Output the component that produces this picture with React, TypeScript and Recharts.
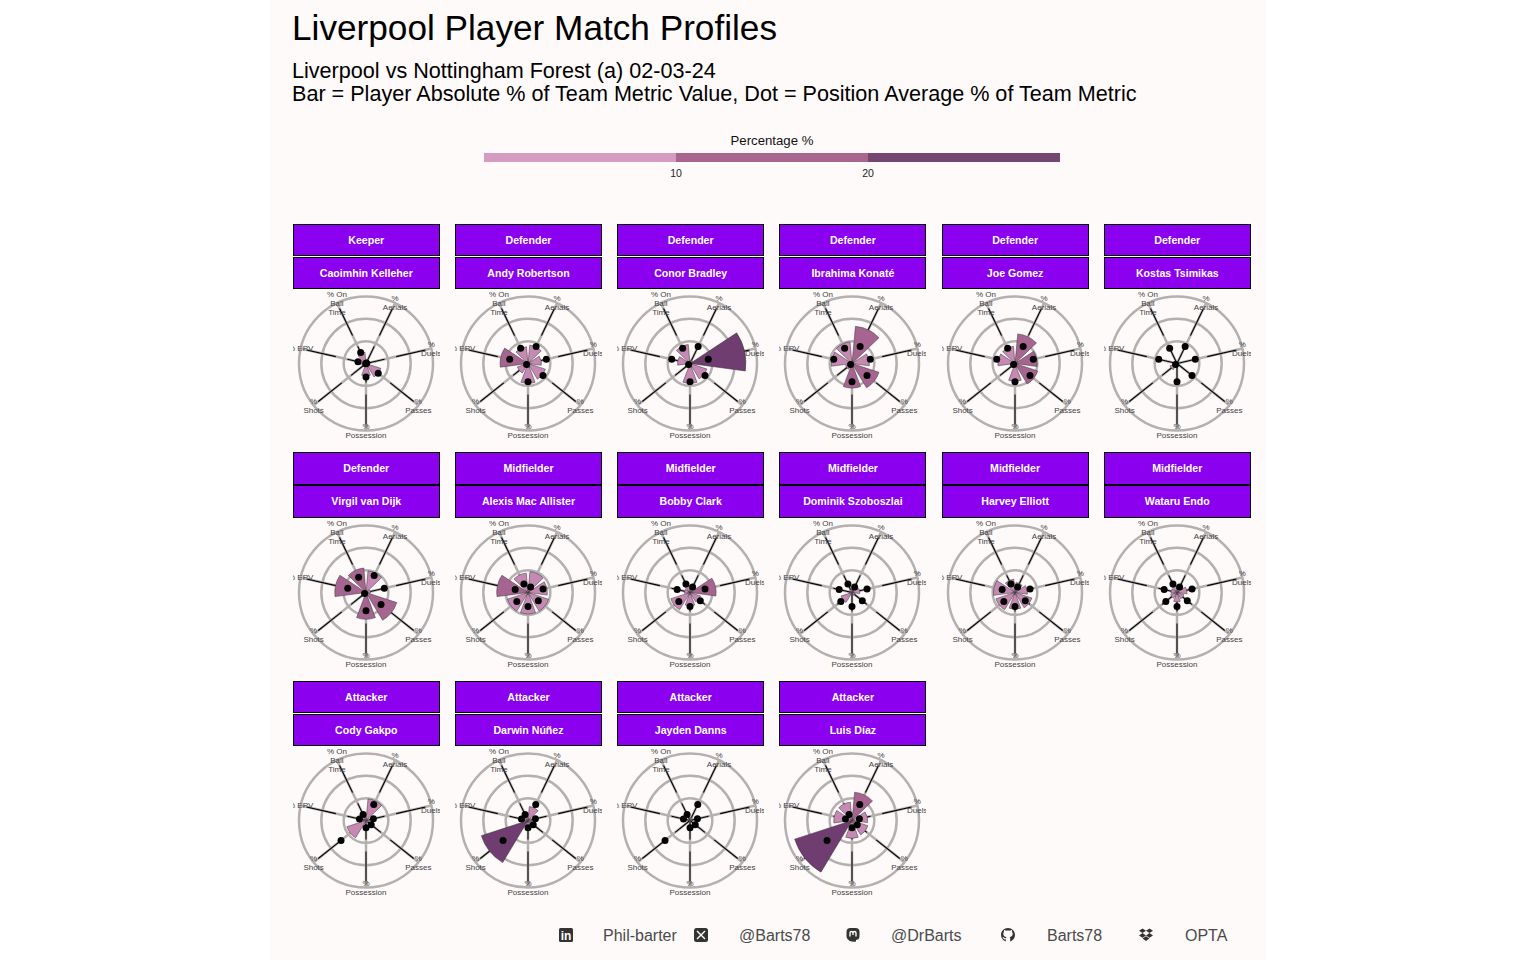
import React from 'react';
import {
  RadialBarChart,
  RadialBar,
  Radar,
  Sector,
  PolarGrid,
  PolarAngleAxis,
  PolarRadiusAxis,
} from 'recharts';

// order is clockwise from the top of each wheel
const metrics = ['Aerials', 'Duels', 'Passes', 'Possession', 'Shots', 'EPV', 'On Ball Time'];
const metricLabels = [
  ['%', 'Aerials'],
  ['%', 'Duels'],
  ['%', 'Passes'],
  ['%', 'Possession'],
  ['%', 'Shots'],
  ['% EPV'],
  ['% On', 'Ball', 'Time'],
];
const ringTicks = [10, 20, 30];

const legendBreaks = [10, 20];

// position averages (the dots)
const keeperAvg = [0.3, 0.3, 7, 6, 0.2, 3.7, 5.5];
const defenderAvg = [8.4, 8.4, 8.6, 8.2, 0.8, 8.4, 7.6];
const midfielderAvg = [2.7, 6.9, 5.9, 6.3, 6.4, 5.9, 4.2];
const attackerAvg = [8, 3.4, 3, 3.3, 14.3, 3, 3];

// player values (the bars)
const kelleher = [0.8, 1, 7, 5.6, 0.3, 3, 5];
const robertson = [8.2, 6, 8.2, 9, 5, 12.5, 7.5];
const bradley = [1.5, 25, 8, 9, 2, 5.6, 8.5];
const konate = [16.7, 7.8, 12.7, 11, 3, 9.3, 9.7];
const gomez = [13.3, 10, 10.7, 8, 2, 7.7, 7.7];
const tsimikas = [0.4, 0.5, 0.4, 0.5, 3.3, 0.4, 0.5];
const vanDijk = [9.7, 2, 14.5, 12, 2, 14, 11];
const macAllister = [9.4, 8.7, 9.7, 9.7, 9.7, 14, 8.7];
const clark = [2, 11.7, 5, 6, 9, 2.5, 3];
const szoboszlai = [1, 3.5, 1.5, 1, 5.2, 1, 1.5];
const elliott = [4.5, 5.6, 8, 7.5, 9, 9.7, 6];
const endo = [2.2, 4.5, 3.3, 4.2, 3, 2.7, 3];
const gakpo = [9.7, 1.5, 1, 1.5, 9, 1, 1.5];
const nunez = [6.3, 1.5, 2, 2.5, 22, 1.5, 1.5];
const danns = [1.5, 1, 0.5, 0.7, 0.4, 0.6, 0.5];
const diaz = [12.7, 7, 7.5, 8, 27, 8.2, 8.2];

const players = [
  { name: 'Caoimhin Kelleher', position: 'Keeper', bars: kelleher, dots: keeperAvg },
  { name: 'Andy Robertson', position: 'Defender', bars: robertson, dots: defenderAvg },
  { name: 'Conor Bradley', position: 'Defender', bars: bradley, dots: defenderAvg },
  { name: 'Ibrahima Konaté', position: 'Defender', bars: konate, dots: defenderAvg },
  { name: 'Joe Gomez', position: 'Defender', bars: gomez, dots: defenderAvg },
  { name: 'Kostas Tsimikas', position: 'Defender', bars: tsimikas, dots: defenderAvg },
  { name: 'Virgil van Dijk', position: 'Defender', bars: vanDijk, dots: defenderAvg },
  { name: 'Alexis Mac Allister', position: 'Midfielder', bars: macAllister, dots: midfielderAvg },
  { name: 'Bobby Clark', position: 'Midfielder', bars: clark, dots: midfielderAvg },
  { name: 'Dominik Szoboszlai', position: 'Midfielder', bars: szoboszlai, dots: midfielderAvg },
  { name: 'Harvey Elliott', position: 'Midfielder', bars: elliott, dots: midfielderAvg },
  { name: 'Wataru Endo', position: 'Midfielder', bars: endo, dots: midfielderAvg },
  { name: 'Cody Gakpo', position: 'Attacker', bars: gakpo, dots: attackerAvg },
  { name: 'Darwin Núñez', position: 'Attacker', bars: nunez, dots: attackerAvg },
  { name: 'Jayden Danns', position: 'Attacker', bars: danns, dots: attackerAvg },
  { name: 'Luis Díaz', position: 'Attacker', bars: diaz, dots: attackerAvg },
];

const FONT = '"Liberation Sans", Arial, sans-serif';
const BG = '#FFFAFA';
const LIGHT = '#C588B4';
const MID = '#A5648F';
const DARK = '#6E3B6E';
const HALF_BAND = 360 / metrics.length / 2;

const barColour = (v: number) => (v < 10 ? LIGHT : v < 20 ? MID : DARK);

const AngleTick = ({ x, y, index }: any) => {
  const lines = metricLabels[index];
  const top = y - ((lines.length - 1) * 9) / 2;
  return (
    <text textAnchor="middle" fontSize={8} fontFamily={FONT} fill="#404040">
      {lines.map((line, i) => (
        <tspan key={i} x={x} y={top + i * 9} dy="0.35em">
          {line}
        </tspan>
      ))}
    </text>
  );
};

// recharts puts the spokes on the band edge, so turn each bar back onto its spoke
const WedgeShape = (props: any) => (
  <Sector
    cx={props.cx}
    cy={props.cy}
    innerRadius={props.innerRadius}
    outerRadius={props.outerRadius}
    startAngle={props.startAngle - HALF_BAND}
    endAngle={props.endAngle - HALF_BAND}
    fill={barColour(props.value)}
    stroke="#333"
    strokeWidth={0.5}
  />
);

const Wheel = ({ bars, dots }: { bars: number[]; dots: number[] }) => {
  const data = metrics.map((metric, i) => ({ metric, value: bars[i], avg: dots[i] }));
  return (
    <RadialBarChart
      width={147}
      height={151}
      data={data}
      cx={73}
      cy={74.5}
      innerRadius={0}
      outerRadius={67}
      startAngle={90 - HALF_BAND}
      endAngle={-270 - HALF_BAND}
      layout="centric"
      barCategoryGap="10%"
      margin={{ top: 0, right: 0, bottom: 0, left: 0 }}
    >
      <PolarGrid gridType="circle" stroke="#B5B0B0" strokeWidth={2.5} />
      <PolarAngleAxis
        type="category"
        dataKey="metric"
        axisLine={false}
        tickLine={false}
        tickSize={0.01}
        tick={<AngleTick />}
      />
      <PolarRadiusAxis type="number" domain={[0, 30]} ticks={ringTicks} tick={false} axisLine={false} />
      <RadialBar dataKey="value" shape={<WedgeShape />} isAnimationActive={false} />
      <PolarGrid
        gridType="circle"
        polarRadius={[]}
        outerRadius={60}
        stroke="#000"
        strokeWidth={1.1}
        strokeDasharray="19 12 30"
      />
      <Radar
        dataKey="avg"
        stroke="none"
        fill="none"
        dot={{ r: 3.5, fill: '#000', stroke: 'none' }}
        isAnimationActive={false}
      />
    </RadialBarChart>
  );
};

const Strip = ({ top, label }: { top: number; label: string }) => (
  <div
    style={{
      position: 'absolute',
      top,
      left: 0,
      width: 145,
      height: 30.5,
      background: '#8B00EE',
      border: '1.3px solid #000',
      color: '#fff',
      fontSize: 10.6,
      fontWeight: 700,
      lineHeight: '31px',
      textAlign: 'center',
    }}
  >
    {label}
  </div>
);

const Panel = ({ player, col, row }: any) => (
  <div style={{ position: 'absolute', left: 292.8 + col * 162.2, top: 223.6 + row * 228.55, width: 147, height: 216 }}>
    <Strip top={0} label={player.position} />
    <Strip top={33} label={player.name} />
    <div style={{ position: 'absolute', top: 65.4, left: 0, width: 147, height: 151, overflow: 'hidden', opacity: 0.99 }}>
      <Wheel bars={player.bars} dots={player.dots} />
    </div>
  </div>
);

const iconBox = (left: number, children: React.ReactNode) => (
  <svg
    width={16}
    height={16}
    viewBox="0 0 16 16"
    style={{ position: 'absolute', left: left - 8, top: 927 }}
  >
    {children}
  </svg>
);

const FooterText = ({ left, text }: { left: number; text: string }) => (
  <div style={{ position: 'absolute', left, top: 927, fontSize: 16, lineHeight: '18px', color: '#4a4a4a' }}>{text}</div>
);

export default function App() {
  return (
    <div style={{ position: 'absolute', left: 0, top: 0, width: 1536, height: 960, background: '#fff', fontFamily: FONT }}>
      <div style={{ position: 'absolute', left: 270, top: 0, width: 996, height: 960, background: BG }} />
      <div style={{ position: 'absolute', left: 292, top: 8, fontSize: 35.2, lineHeight: '40px', color: '#000' }}>
        Liverpool Player Match Profiles
      </div>
      <div style={{ position: 'absolute', left: 292, top: 59, fontSize: 21.6, lineHeight: '23px', color: '#000', whiteSpace: 'nowrap' }}>
        Liverpool vs Nottingham Forest (a) 02-03-24
        <br />
        Bar = Player Absolute % of Team Metric Value, Dot = Position Average % of Team Metric
      </div>

      <div style={{ position: 'absolute', left: 484, top: 133, width: 576, textAlign: 'center', fontSize: 13.2, lineHeight: '16px', color: '#111' }}>
        Percentage %
      </div>
      <div style={{ position: 'absolute', left: 484, top: 153, width: 192, height: 9, background: '#D59BC1' }} />
      <div style={{ position: 'absolute', left: 676, top: 153, width: 192, height: 9, background: '#A8668F' }} />
      <div style={{ position: 'absolute', left: 868, top: 153, width: 192, height: 9, background: '#764771' }} />
      {legendBreaks.map((b, i) => (
        <div
          key={b}
          style={{ position: 'absolute', left: 656 + i * 192, top: 167, width: 40, textAlign: 'center', fontSize: 10.5, lineHeight: '13px', color: '#222' }}
        >
          {b}
        </div>
      ))}

      {players.map((player, i) => (
        <Panel key={player.name} player={player} col={i % 6} row={Math.floor(i / 6)} />
      ))}

      {iconBox(
        566,
        <>
          <rect x={1} y={1} width={14} height={14} rx={1.5} fill="#333" />
          <text x={8} y={13} textAnchor="middle" fontSize={12} fontWeight={700} fill={BG} fontFamily={FONT}>in</text>
        </>
      )}
      <FooterText left={603} text="Phil-barter" />
      {iconBox(
        701,
        <>
          <rect x={1} y={1} width={14} height={14} rx={2.5} fill="#333" />
          <path d="M4 4 L12 12 M12 4 L4 12" stroke={BG} strokeWidth={1.4} />
        </>
      )}
      <FooterText left={739} text="@Barts78" />
      {iconBox(
        853,
        <>
          <rect x={1.5} y={1} width={13} height={12} rx={4} fill="#333" />
          <path d="M3 12 Q5 15.5 11 14.5 L11 12 Z" fill="#333" />
          <path d="M5 9.5 V6 Q5 4.5 6.5 4.5 Q8 4.5 8 6 V8 M8 8 V6 Q8 4.5 9.5 4.5 Q11 4.5 11 6 V9.5" stroke={BG} strokeWidth={1.4} fill="none" />
        </>
      )}
      <FooterText left={891} text="@DrBarts" />
      {iconBox(
        1008,
        <path
          d="M8 1 C4 1 1 4 1 8 C1 11 3 13.5 5.8 14.5 V12.3 C3.6 12.8 3.2 11.2 3.2 11.2 C2.8 10.3 2.3 10 2.3 10 C3 9.6 3.9 10.6 3.9 10.6 C4.7 11.8 5.8 11.3 6 11 C6 10.6 6.3 10.2 6.5 10 C4.4 9.8 3.3 8.7 3.3 6.8 C3.3 6 3.6 5.3 4 4.8 C3.8 4.3 3.8 3.5 4.1 2.9 C5 2.9 5.8 3.5 6.1 3.8 C7.3 3.4 8.7 3.4 9.9 3.8 C10.2 3.5 11 2.9 11.9 2.9 C12.2 3.5 12.2 4.3 12 4.8 C12.4 5.3 12.7 6 12.7 6.8 C12.7 8.7 11.6 9.8 9.5 10 C9.8 10.3 10.2 10.8 10.2 11.6 V14.5 C13 13.5 15 11 15 8 C15 4 12 1 8 1 Z"
          fill="#333"
        />
      )}
      <FooterText left={1047} text="Barts78" />
      {iconBox(
        1146,
        <path
          d="M4.5 1.5 L8 3.8 L4.5 6.1 L1 3.8 Z M11.5 1.5 L15 3.8 L11.5 6.1 L8 3.8 Z M4.5 6.1 L8 8.4 L4.5 10.7 L1 8.4 Z M11.5 6.1 L15 8.4 L11.5 10.7 L8 8.4 Z M4.5 11.6 L8 9.3 L11.5 11.6 L8 14 Z"
          fill="#333"
        />
      )}
      <FooterText left={1185} text="OPTA" />
    </div>
  );
}
